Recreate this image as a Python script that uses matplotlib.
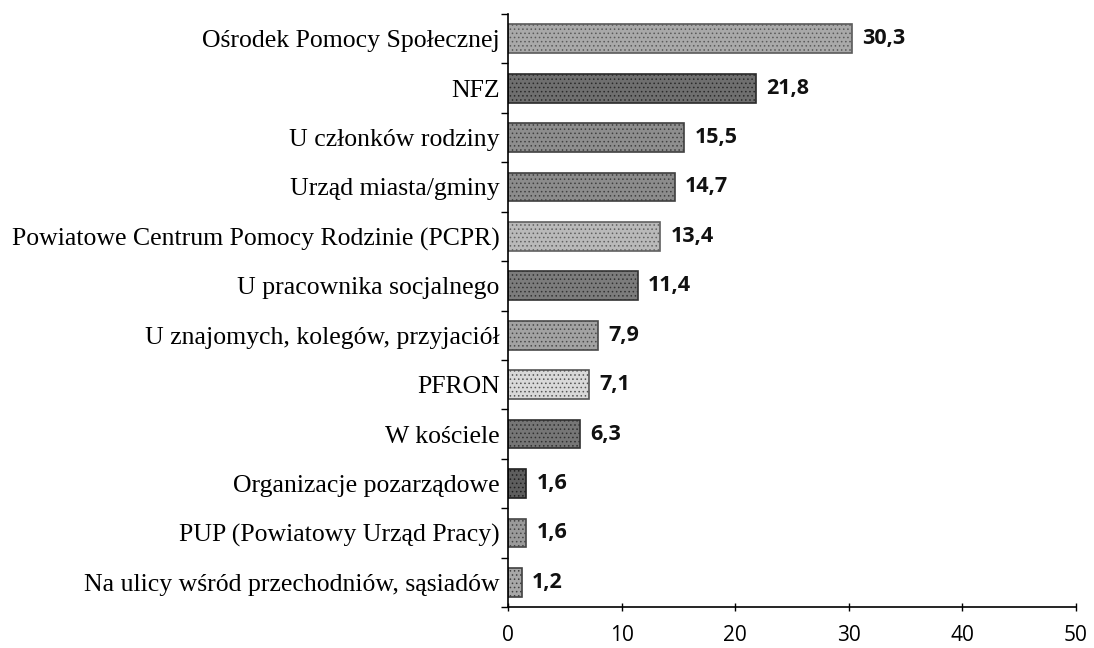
import matplotlib
matplotlib.use("Agg")
import matplotlib.pyplot as plt
import numpy as np

categories = [
    "Ośrodek Pomocy Społecznej",
    "NFZ",
    "U członków rodziny",
    "Urząd miasta/gminy",
    "Powiatowe Centrum Pomocy Rodzinie (PCPR)",
    "U pracownika socjalnego",
    "U znajomych, kolegów, przyjaciół",
    "PFRON",
    "W kościele",
    "Organizacje pozarządowe",
    "PUP (Powiatowy Urząd Pracy)",
    "Na ulicy wśród przechodniów, sąsiadów",
]
values = [30.3, 21.8, 15.5, 14.7, 13.4, 11.4, 7.9, 7.1, 6.3, 1.6, 1.6, 1.2]
bar_colors = ["#a9a9a9", "#6f6f6f", "#8e8e8e", "#8c8c8c", "#b9b9b9", "#7c7c7c",
              "#a2a2a2", "#d9d9d9", "#767676", "#5e5e5e", "#9a9a9a", "#a8a8a8"]
edge_colors = ["#5a5a5a", "#2a2a2a", "#404040", "#404040", "#606060", "#333333",
               "#4a4a4a", "#555555", "#303030", "#202020", "#454545", "#404040"]
x_ticks = [0, 10, 20, 30, 40, 50]

fig = plt.figure(figsize=(10.94, 6.48), dpi=100)
ax = fig.add_axes([0.4644, 0.0633, 0.519, 0.915])

n = len(categories)
y = np.arange(n)
plt.rcParams["hatch.linewidth"] = 0.6
for yi, v, fc, ec in zip(y, values, bar_colors, edge_colors):
    ax.barh(yi, v, height=0.58, color=fc, edgecolor=ec, linewidth=1.2,
            hatch="....", zorder=2)
    ax.text(v + 0.9, yi, f"{v:.1f}".replace(".", ","), va="center", ha="left",
            fontsize=15.5, fontweight="bold", family="Open Sans", color="#111111")

ax.set_xlim(0, 50)
ax.set_ylim(n - 0.5, -0.5)
ax.set_xticks(x_ticks)
ax.set_xticklabels([str(t) for t in x_ticks], family="Open Sans", fontsize=15)
ax.set_yticks(y)
ax.set_yticklabels(categories, family="Liberation Serif", fontsize=18.5)
ax.set_yticks(np.arange(-0.5, n, 1.0), minor=True)
ax.tick_params(axis="y", which="major", length=0, pad=6)
ax.tick_params(axis="y", which="minor", length=5, direction="out", width=1)
ax.tick_params(axis="x", which="major", length=6, direction="inout", width=1, pad=10)

for side in ("top", "right"):
    ax.spines[side].set_visible(False)
ax.spines["left"].set_linewidth(1.2)
ax.spines["bottom"].set_linewidth(1.2)

fig.savefig("out.png", dpi=100)
